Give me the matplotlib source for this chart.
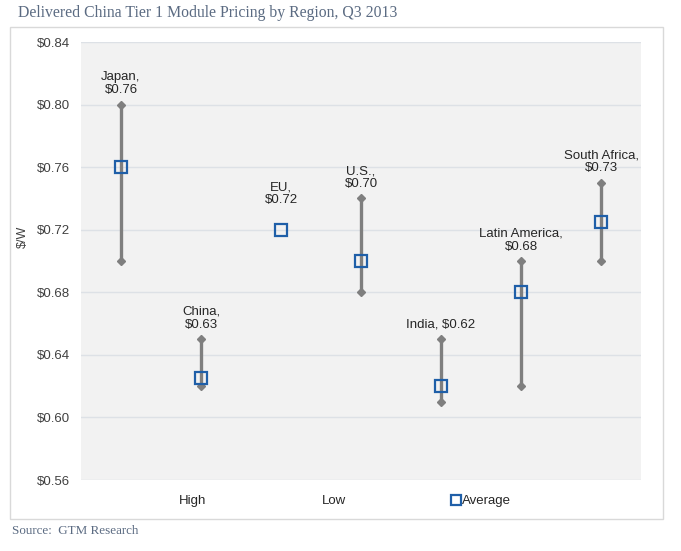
import math
import matplotlib.pyplot as plt
from matplotlib.lines import Line2D
from matplotlib.patches import Rectangle

# data (EU has only an average)
regions = ["Japan", "China", "EU", "U.S.", "India", "Latin America", "South Africa"]
high = [0.80, 0.65, float('nan'), 0.74, 0.65, 0.70, 0.75]
low = [0.70, 0.62, float('nan'), 0.68, 0.61, 0.62, 0.70]
average = [0.76, 0.625, 0.72, 0.70, 0.62, 0.68, 0.725]
labels = ["Japan,\n$0.76", "China,\n$0.63", "EU,\n$0.72", "U.S.,\n$0.70",
          "India, $0.62", "Latin America,\n$0.68", "South Africa,\n$0.73"]
yticks = [0.56, 0.60, 0.64, 0.68, 0.72, 0.76, 0.80, 0.84]

plt.rcParams['font.family'] = ['Liberation Sans', 'DejaVu Sans']

fig = plt.figure(figsize=(6.81, 5.51), dpi=100)
ax = fig.add_axes([81/681, 1 - 480/551, 560/681, 438/551])

# outer chart frame
fig.patches.append(Rectangle((10/681, 1 - 519/551), 653/681, 492/551,
                             transform=fig.transFigure, fill=False,
                             edgecolor='#d9d9d9', lw=1))

ax.set_facecolor('#f2f2f2')
x = list(range(len(regions)))

ax.vlines(x, low, high, color='#7f7f7f', lw=2.4, zorder=2)
ax.plot(x, high, ls='none', marker='D', ms=4, color='#7f7f7f', zorder=2)
ax.plot(x, low, ls='none', marker='D', ms=4, color='#7f7f7f', zorder=2)
ax.plot(x, average, ls='none', marker='s', ms=8, mfc='none',
        mec='#1f5fa8', mew=1.6, zorder=3)

for i in x:
    if math.isnan(high[i]):
        anchor, off = average[i], 17
    else:
        anchor, off = high[i], 6
    ax.annotate(labels[i], (i, anchor), xytext=(0, off),
                textcoords='offset points', ha='center', va='bottom',
                fontsize=9.5, color='#262626', linespacing=1.1)

ax.set_xlim(-0.5, len(regions) - 0.5)
ax.set_ylim(yticks[0], yticks[-1])
ax.set_yticks(yticks)
ax.set_yticklabels(['$%.2f' % v for v in yticks], fontsize=9.5, color='#404040')
ax.set_xticks([])
ax.tick_params(axis='y', length=0, pad=8)
ax.grid(axis='y', color='#dde1e6', lw=1)
ax.set_axisbelow(True)
for s in ax.spines.values():
    s.set_visible(False)

fig.text(23/681, 1 - 237/551, '$/W', rotation=90, ha='center', va='center',
         fontsize=9, color='#404040')

handles = [Line2D([], [], ls='none'),
           Line2D([], [], ls='none'),
           Line2D([], [], ls='none', marker='s', ms=7, mfc='none',
                  mec='#1f5fa8', mew=1.6)]
fig.legend(handles, ['High', 'Low', 'Average'], loc='center',
           bbox_to_anchor=(340/681, 1 - 501/551), ncol=3, frameon=False,
           fontsize=9.5, handlelength=0.6, handletextpad=0.15,
           columnspacing=8.05, labelcolor='#262626')

fig.text(18/681, 1 - 13/551, 'Delivered China Tier 1 Module Pricing by Region, Q3 2013',
         family='Liberation Serif', fontsize=11.3, color='#5b6b82',
         ha='left', va='center')
fig.text(12/681, 1 - 531/551, 'Source:  GTM Research', family='Liberation Serif',
         fontsize=9.4, color='#5b6b82', ha='left', va='center')

fig.savefig('out.png', dpi=100)
